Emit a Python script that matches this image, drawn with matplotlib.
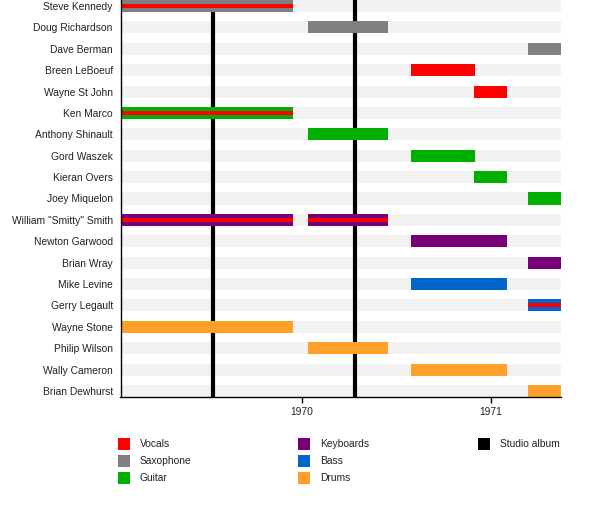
import matplotlib
matplotlib.use("Agg")
import matplotlib.pyplot as plt
from matplotlib.patches import Rectangle

plt.rcParams['font.family'] = ['Liberation Sans', 'DejaVu Sans']

# band members, top to bottom
members = ["Steve Kennedy", "Doug Richardson", "Dave Berman", "Breen LeBoeuf",
           "Wayne St John", "Ken Marco", "Anthony Shinault", "Gord Waszek",
           "Kieran Overs", "Joey Miquelon", 'William "Smitty" Smith',
           "Newton Garwood", "Brian Wray", "Mike Levine", "Gerry Legault",
           "Wayne Stone", "Philip Wilson", "Wally Cameron", "Brian Dewhurst"]

# one entry per bar (decimal years)
bar_member = ["Steve Kennedy", "Doug Richardson", "Dave Berman", "Breen LeBoeuf",
              "Wayne St John", "Ken Marco", "Anthony Shinault", "Gord Waszek",
              "Kieran Overs", "Joey Miquelon", 'William "Smitty" Smith',
              'William "Smitty" Smith', "Newton Garwood", "Brian Wray",
              "Mike Levine", "Gerry Legault", "Wayne Stone", "Philip Wilson",
              "Wally Cameron", "Brian Dewhurst"]
bar_start = [1969.0, 1970.033, 1971.197, 1970.578, 1970.911, 1969.0, 1970.033,
             1970.578, 1970.911, 1971.197, 1969.0, 1970.033, 1970.578, 1971.197,
             1970.578, 1971.197, 1969.0, 1970.033, 1970.578, 1971.197]
bar_end = [1969.954, 1970.457, 1971.5, 1970.917, 1971.086, 1969.954, 1970.457,
           1970.917, 1971.086, 1971.5, 1969.954, 1970.457, 1971.086, 1971.5,
           1971.086, 1971.5, 1969.954, 1970.457, 1971.086, 1971.5]
bar_role = ["Saxophone", "Saxophone", "Saxophone", "Vocals", "Vocals", "Guitar",
            "Guitar", "Guitar", "Guitar", "Guitar", "Keyboards", "Keyboards",
            "Keyboards", "Keyboards", "Bass", "Bass", "Drums", "Drums", "Drums",
            "Drums"]
bar_role2 = ["Vocals", None, None, None, None, "Vocals", None, None, None, None,
             "Vocals", "Vocals", None, None, None, "Vocals", None, None, None,
             None]

albums = [1969.532, 1970.283]

roles = ["Vocals", "Saxophone", "Guitar", "Keyboards", "Bass", "Drums"]
role_colors = ["#ff0000", "#808080", "#00b000", "#770077", "#0066cc", "#ffa02a"]
colors = dict(zip(roles, role_colors))

x_min, x_max = 1969.041, 1971.372
years = [1970, 1971]
fs = 7.35

fig = plt.figure(figsize=(6, 5.16), dpi=100)
ax = fig.add_axes([120.5 / 600, 119 / 516, (561 - 120.5) / 600, 397 / 516])

row = {m: i for i, m in enumerate(members)}
bh = 12 / 21.39

# background stripes
for i in range(len(members)):
    ax.barh(i, x_max - x_min, left=x_min, height=bh, color="#f2f2f2",
            zorder=0, linewidth=0)

# studio albums
for a in albums:
    ax.axvline(a, color="black", lw=3, zorder=1)

for m, s, e, r, r2 in zip(bar_member, bar_start, bar_end, bar_role, bar_role2):
    y = row[m]
    ax.barh(y, e - s, left=s, height=bh, color=colors[r], zorder=2, linewidth=0)
    if r2:
        ax.barh(y, e - s, left=s, height=bh / 3, color=colors[r2], zorder=3,
                linewidth=0)

ax.set_xlim(x_min, x_max)
ax.set_ylim(len(members) - 1 + 0.28, -0.28)
ax.set_yticks(range(len(members)), members)
ax.set_xticks(years, [str(y) for y in years])
ax.tick_params(axis="y", length=0, pad=5.5, labelsize=fs, colors="#222222")
ax.tick_params(axis="x", length=4, width=1, pad=3, labelsize=fs,
               labelcolor="#222222")
for sp in ["top", "right"]:
    ax.spines[sp].set_visible(False)
for sp in ["left", "bottom"]:
    ax.spines[sp].set_linewidth(1)
    ax.spines[sp].set_zorder(4)

# legend
legend_labels = roles + ["Studio album"]
legend_colors = role_colors + ["#000000"]
col_x = [118, 298, 478]
row_y = [444, 461, 478]
for k, (lab, col) in enumerate(zip(legend_labels, legend_colors)):
    cx = col_x[k // 3]
    cy = row_y[k % 3]
    fig.add_artist(Rectangle((cx / 600, 1 - (cy + 6) / 516), 12 / 600, 12 / 516,
                             transform=fig.transFigure, color=col, lw=0))
    fig.text((cx + 22) / 600, 1 - cy / 516, lab, fontsize=fs, va="center",
             ha="left", color="#222222")

fig.savefig("out.png", dpi=100)
